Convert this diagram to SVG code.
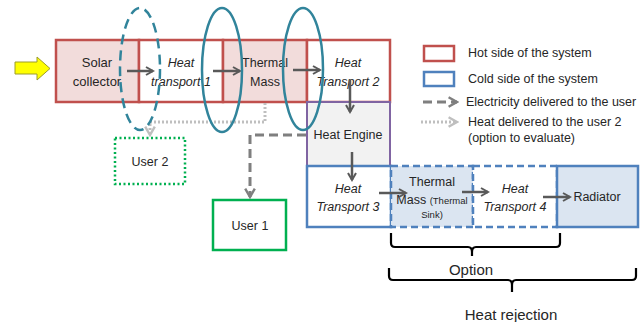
<svg xmlns="http://www.w3.org/2000/svg" width="641" height="322" viewBox="0 0 641 322">
  <defs>
    <style>
      text { font-family: "Liberation Sans", Arial, sans-serif; font-size: 12.5px; fill: #262626; }
      .c { text-anchor: middle; }
      .it { font-style: italic; }
      .sm { font-size: 9.5px; }
      .big { font-size: 15px; }
      .hot { fill: #f2dcdb; stroke: #c0504d; stroke-width: 2.5; }
      .hotw { fill: #ffffff; stroke: #c0504d; stroke-width: 2.5; }
      .cold { fill: #dbe5f1; stroke: #4f81bd; stroke-width: 2.5; }
      .coldw { fill: #ffffff; stroke: #4f81bd; stroke-width: 2.5; }
      .dash { stroke-dasharray: 7 4; }
      .flow { fill: none; stroke: #595959; stroke-width: 2.5; }
      .elec { fill: none; stroke: #7f7f7f; stroke-width: 3; stroke-dasharray: 9 5; }
      .heat { fill: none; stroke: #bfbfbf; stroke-width: 3; stroke-dasharray: 2 2; }
      .ring { fill: none; stroke: #31849b; stroke-width: 2.5; }
      .brace { fill: none; stroke: #000000; stroke-width: 2.2; }
    </style>
    <marker id="ah" viewBox="0 0 10 10" refX="8" refY="5" markerWidth="4" markerHeight="4" orient="auto" markerUnits="strokeWidth">
      <path d="M1,1 L8,5 L1,9" fill="none" stroke="#595959" stroke-width="2"/>
    </marker>
    <marker id="ahE" viewBox="0 0 10 10" refX="8" refY="5" markerWidth="4" markerHeight="4" orient="auto" markerUnits="strokeWidth">
      <path d="M1,1 L8,5 L1,9" fill="none" stroke="#7f7f7f" stroke-width="2"/>
    </marker>
    <marker id="ahH" viewBox="0 0 10 10" refX="8" refY="5" markerWidth="4" markerHeight="4" orient="auto" markerUnits="strokeWidth">
      <path d="M1,1 L8,5 L1,9" fill="none" stroke="#bfbfbf" stroke-width="2"/>
    </marker>
  </defs>

  <rect width="641" height="322" fill="#ffffff"/>

  <!-- solar input -->
  <g id="sun-input">
    <path d="M15,62 L37,62 L37,57 L50,68.5 L37,80 L37,74 L15,74 Z" fill="#ffff00" stroke="#9c9c2a" stroke-width="1"/>
  </g>

  <!-- hot side -->
  <g id="solar-collector">
    <rect class="hot" x="56" y="40" width="83" height="62"/>
    <text class="c" x="97" y="67" style="font-size:13px">Solar</text>
    <text class="c" x="97" y="86" style="font-size:13px">collector</text>
  </g>
  <g id="heat-transport-1">
    <rect class="hotw" x="139" y="40" width="84" height="62"/>
    <text class="c it" x="181" y="67">Heat</text>
    <text class="c it" x="181" y="86">transport 1</text>
  </g>
  <g id="thermal-mass">
    <rect class="hot" x="223" y="40" width="84" height="62"/>
    <text class="c" x="265" y="67">Thermal</text>
    <text class="c" x="265" y="86">Mass</text>
  </g>
  <g id="heat-transport-2">
    <rect class="hotw" x="307" y="40" width="83" height="62"/>
    <text class="c it" x="348" y="67">Heat</text>
    <text class="c it" x="348" y="86">Transport 2</text>
  </g>

  <g id="heat-engine">
    <rect x="307" y="102" width="83" height="64" fill="#f2f2f2" stroke="#8064a2" stroke-width="2"/>
    <text class="c" x="348" y="139">Heat Engine</text>
  </g>

  <!-- cold side -->
  <g id="heat-transport-3">
    <rect class="coldw" x="307" y="166" width="84" height="61"/>
    <text class="c it" x="348" y="193">Heat</text>
    <text class="c it" x="348" y="211">Transport 3</text>
  </g>
  <g id="thermal-sink">
    <rect class="cold dash" x="391" y="166" width="82" height="61"/>
    <text class="c" x="432" y="186">Thermal</text>
    <text class="c" x="432" y="204">Mass <tspan class="sm">(Thermal</tspan></text>
    <text class="c sm" x="432" y="218">Sink)</text>
  </g>
  <g id="heat-transport-4">
    <rect class="coldw dash" x="473" y="166" width="84" height="61"/>
    <text class="c it" x="515" y="193">Heat</text>
    <text class="c it" x="515" y="211">Transport 4</text>
  </g>
  <g id="radiator">
    <rect class="cold" x="557" y="166" width="81" height="61"/>
    <text class="c" x="597" y="201">Radiator</text>
  </g>

  <!-- users -->
  <g id="user-2">
    <rect x="115" y="138" width="70" height="46" fill="#ffffff" stroke="#00b050" stroke-width="2.5" stroke-dasharray="2 2.5"/>
    <text class="c" x="150" y="166">User 2</text>
  </g>
  <g id="user-1">
    <rect x="213" y="200" width="73" height="50" fill="#ffffff" stroke="#00b050" stroke-width="2.5"/>
    <text class="c" x="250" y="230">User 1</text>
  </g>

  <!-- connectors -->
  <g id="connectors">
    <line class="flow" x1="127" y1="71" x2="153" y2="71" marker-end="url(#ah)"/>
    <line class="flow" x1="213" y1="71" x2="240" y2="71" marker-end="url(#ah)"/>
    <line class="flow" x1="293" y1="70" x2="320" y2="70" marker-end="url(#ah)"/>
    <line class="flow" x1="350" y1="80" x2="350" y2="112" marker-end="url(#ah)"/>
    <line class="flow" x1="352" y1="152" x2="352" y2="180" marker-end="url(#ah)"/>
    <line class="flow" x1="379" y1="193" x2="406" y2="193" marker-end="url(#ah)"/>
    <line class="flow" x1="462" y1="192" x2="488" y2="192" marker-end="url(#ah)"/>
    <line class="flow" x1="543" y1="197" x2="570" y2="197" marker-end="url(#ah)"/>
    <!-- heat to user 2 -->
    <path class="heat" d="M265,103 L265,122 L150,122 L150,135" marker-end="url(#ahH)"/>
    <!-- electricity to user 1 -->
    <path class="elec" d="M306,135 L250,135 L250,197" marker-end="url(#ahE)"/>
  </g>

  <!-- interface rings -->
  <g id="interfaces">
    <ellipse class="ring" cx="140" cy="69" rx="20" ry="61" stroke-dasharray="10 6"/>
    <ellipse class="ring" cx="222" cy="70" rx="20" ry="62"/>
    <ellipse class="ring" cx="303" cy="69" rx="20" ry="61"/>
  </g>

  <!-- braces -->
  <g id="option-brace">
    <path class="brace" d="M391,233 L391,243 Q391,247 395,247 L468,247 Q472,247 472,252 L472,256 M472,252 Q472,247 476,247 L556,247 Q560,247 560,243 L560,233"/>
    <text class="c big" x="471" y="275">Option</text>
  </g>
  <g id="heat-rejection-brace">
    <path class="brace" d="M389,268 L389,276 Q389,280 393,280 L508,280 Q512,280 512,285 L512,292 M512,285 Q512,280 516,280 L632,280 Q636,280 636,276 L636,268"/>
    <text class="c big" x="511" y="320">Heat rejection</text>
  </g>

  <!-- legend -->
  <g id="legend">
    <rect x="424" y="46" width="30" height="15" fill="#ffffff" stroke="#c0504d" stroke-width="2.5"/>
    <text x="468" y="57">Hot side of the system</text>
    <rect x="424" y="72" width="30" height="14" fill="#ffffff" stroke="#4f81bd" stroke-width="2.5"/>
    <text x="468" y="83">Cold side of the system</text>
    <line class="elec" x1="423" y1="102" x2="457" y2="102" stroke-dasharray="8 5" marker-end="url(#ahE)" stroke="#a6a6a6"/>
    <text x="466" y="106">Electricity delivered to the user</text>
    <line class="heat" x1="421" y1="122" x2="457" y2="122" marker-end="url(#ahH)"/>
    <text x="468" y="126">Heat delivered to the user 2</text>
    <text x="468" y="142">(option to evaluate)</text>
  </g>
</svg>
